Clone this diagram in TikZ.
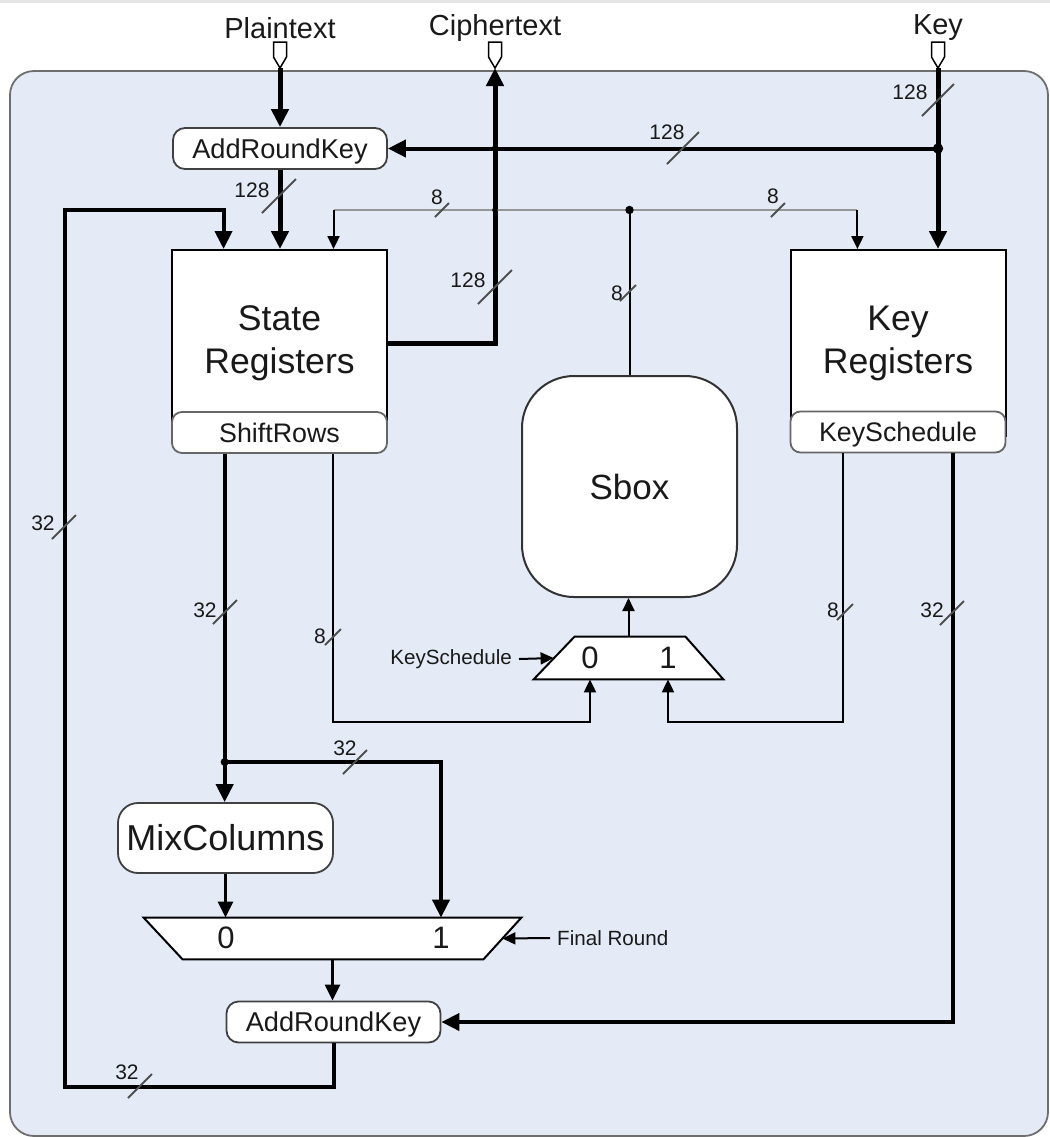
\documentclass[tikz,border=0pt]{standalone}
\usepackage{fontspec}
\setmainfont{Liberation Sans}
\usetikzlibrary{arrows.meta,calc}

\definecolor{panelfill}{RGB}{228,235,246}
\definecolor{panelrim}{RGB}{110,110,110}
\definecolor{greybus}{RGB}{150,150,150}
\definecolor{tickgrey}{RGB}{80,80,80}
\definecolor{ink}{RGB}{25,25,25}

\newcommand\fsz[2]{\fontsize{#1}{#2}\selectfont}
% bus-width tick: centre, half length
\newcommand\wmark[2]{\draw[slashmark] ($(#1)+(-#2,#2)$) -- ($(#1)+(#2,-#2)$);}

\tikzset{
  lbl/.style={font=\fsz{10.5pt}{12pt}, text=ink, inner sep=0pt},
  pinlbl/.style={font=\fsz{14.5pt}{17pt}, text=ink, inner sep=0pt},
  ctl/.style={font=\fsz{10.3pt}{12pt}, text=ink, inner sep=3.4pt},
  regbox/.style={draw=black, line width=1pt, fill=white, minimum width=107.5pt,
    minimum height=93pt, align=center, font=\fsz{17.8pt}{21.5pt}, text=ink, inner sep=0pt},
  subbox/.style={draw=black!60, line width=0.9pt, fill=white, rounded corners=5pt,
    minimum width=107.5pt, minimum height=20.5pt, font=\fsz{13.4pt}{15pt}, text=ink,
    inner sep=0pt, text height=9.6pt, text depth=0pt},
  opbox/.style={draw=black!75, line width=0.9pt, fill=white, rounded corners=6pt,
    minimum width=107pt, minimum height=20.5pt, font=\fsz{13.6pt}{16pt}, text=ink,
    inner sep=0pt, text height=9.8pt, text depth=0pt},
  muxarea/.style={inner sep=0pt},
  muxline/.style={draw=black, line width=1pt, fill=white, line join=miter},
  digit/.style={font=\fsz{15.5pt}{18pt}, text=ink, inner sep=0pt},
  heavy/.style={line width=2.5pt},
  wide/.style={line width=2pt},
  mid/.style={line width=1.5pt},
  fine/.style={line width=1pt},
  graybus/.style={line width=1.4pt, draw=greybus},
  bigtip/.style={-{Triangle[length=9pt,width=8.5pt]}},
  midtip/.style={-{Triangle[length=8pt,width=7.5pt]}},
  smalltip/.style={-{Triangle[length=6.5pt,width=6pt]}},
  slashmark/.style={draw=tickgrey, line width=1pt},
}

\begin{document}
\begin{tikzpicture}[x=0.5pt,y=-0.5pt]
\useasboundingbox (0,0) rectangle (1050,1137);

% page strip and panel
\fill[black!10] (0,0) rectangle (1050,3);
\draw[fill=panelfill, draw=panelrim, line width=0.9pt, rounded corners=12pt]
  (10,71) rectangle (1048,1136);

% external pins
\node[pinlbl] (ptlbl) at (280,28) {Plaintext};
\node[pinlbl] (ctlbl) at (495,28) {Ciphertext};
\node[pinlbl] (keylbl) at (938,28) {Key};
\coordinate (ptpin) at (280,68);
\coordinate (ctpin) at (495,68);
\coordinate (kpin)  at (938,68);
\foreach \p in {ptpin,ctpin,kpin}{
  \draw[fill=white, line width=0.75pt]
    ($(\p)+(-6.5,-26)$) -- ($(\p)+(6.5,-26)$) -- ($(\p)+(6.5,-11)$)
    -- (\p) -- ($(\p)+(-6.5,-11)$) -- cycle;
}

% blocks
\node[opbox] (ark1) at (280,148.5) {AddRoundKey};
\node[regbox] (state) at (279.5,343) {State\\Registers};
\node[subbox] (sr) at (279.5,432.5) {ShiftRows};
\node[regbox] (kr) at (898,343) {Key\\Registers};
\node[subbox] (ks) at (898,432) {KeySchedule};
\node[draw=black!80, line width=1pt, fill=white, rounded corners=26pt,
      minimum width=107.5pt, minimum height=110.5pt,
      font=\fsz{17.5pt}{21pt}, text=ink] (sbox) at (629.5,486.5) {Sbox};

% S-box input multiplexer (wide side down)
\node[muxarea, minimum width=94.5pt, minimum height=21pt] (mux1) at (628.5,658) {};
\draw[muxline] (mux1.south west) -- ($(mux1.north west)+(41,0)$)
  -- ($(mux1.north east)+(-38,0)$) -- (mux1.south east) -- cycle;
\node[digit] (m1zero) at (590,658) {0};
\node[digit] (m1one) at (668,658) {1};
\coordinate (m1sel) at ($(mux1.west)+(20,0)$);
\node[ctl, anchor=east] (ksl) at (519,659) {KeySchedule};

\node[draw=black!75, line width=0.9pt, fill=white, rounded corners=10pt,
      minimum width=107.5pt, minimum height=35pt,
      font=\fsz{18pt}{21pt}, text=ink] (mc) at (225.5,838) {MixColumns};

% final-round multiplexer (wide side up)
\node[muxarea, minimum width=188.5pt, minimum height=20.5pt] (mux2) at (332.5,938.5) {};
\draw[muxline] (mux2.north west) -- (mux2.north east)
  -- ($(mux2.south east)+(-38,0)$) -- ($(mux2.south west)+(39,0)$) -- cycle;
\node[digit] (m2zero) at (226,938) {0};
\node[digit] (m2one) at (441,938) {1};
\coordinate (m2sel) at ($(mux2.east)+(-19,0)$);
\node[ctl, anchor=west] (frl) at (550,938) {Final Round};

\node[opbox] (ark2) at (333.5,1022) {AddRoundKey};

% helper points
\coordinate (ybus) at (0,210);
\coordinate (ylow) at (0,722);
\coordinate (ybranch) at (0,762);
\coordinate (stin1) at ($(state.north west)!0.242!(state.north east)$);
\coordinate (stin3) at ($(state.north west)!0.749!(state.north east)$);
\coordinate (krin1) at ($(kr.north west)!0.313!(kr.north east)$);
\coordinate (srA) at ($(sr.south west)!0.247!(sr.south east)$);
\coordinate (srB) at ($(sr.south west)!0.749!(sr.south east)$);
\coordinate (ksA) at ($(ks.south west)!0.248!(ks.south east)$);
\coordinate (ksB) at ($(ks.south west)!0.752!(ks.south east)$);
\coordinate (kj) at (kpin |- ark1.east);
\coordinate (gb) at (sbox.north |- ybus);
\coordinate (gbL) at (stin3 |- ybus);
\coordinate (gbR) at (krin1 |- ybus);
\coordinate (mj) at (srA |- ybranch);
\coordinate (loopBL) at (65,1087);
\coordinate (loopTL) at (65,210);

% 128-bit paths
\draw[heavy, bigtip] (ptpin) -- (ark1.north);
\draw[heavy, bigtip] (kpin) -- (kpin |- kr.north);
\draw[wide, bigtip] (kj) -- (ark1.east);
\draw[heavy, bigtip] (ark1.south) -- (ark1.south |- state.north);
\draw[heavy, bigtip] (state.east) -| (ctpin);

% 8-bit S-box bus
\draw[graybus] (gbL) -- (gbR);
\draw[fine, smalltip] (gbL) -- (stin3);
\draw[fine, smalltip] (gbR) -- (krin1);
\draw[fine] (gb) -- (sbox.north);
\draw[fine, smalltip] (mux1.north) -- (mux1.north |- sbox.south);
\draw[fine, smalltip] (srB) |- (ylow -| m1zero) -- (m1zero |- mux1.south);
\draw[fine, smalltip] (ksA) |- (ylow -| m1one) -- (m1one |- mux1.south);
\draw[fine, smalltip] (ksl.east) -- (m1sel);

% 32-bit datapath
\draw[wide, bigtip] (srA) -- (srA |- mc.north);
\draw[wide, bigtip] (mj) -| (m2one |- mux2.north);
\draw[mid, midtip] (mc.south) -- (mc.south |- mux2.north);
\draw[mid, midtip] (mux2.south) -- (mux2.south |- ark2.north);
\draw[fine, smalltip] (frl.west) -- (m2sel);
\draw[wide, bigtip] (ksB) |- (ark2.east);
\draw[wide, bigtip] (ark2.south) |- (loopBL) -- (loopTL) -| (stin1);

% junctions
\fill (kj) circle (2.6pt);
\fill (gb) circle (2.1pt);
\fill (mj) circle (2pt);
\fill (ctpin |- ark1.east) circle (1.6pt);
\fill (ctpin |- ybus) circle (1.4pt);

% bus widths
\wmark{938,100}{16} \node[lbl] (w1) at (910,92) {128};
\wmark{683,148}{16} \node[lbl] (w2) at (667,132) {128};
\wmark{279,196}{17} \node[lbl] (w3) at (252,190) {128};
\wmark{442,210}{7}  \node[lbl] (w4) at (437,197) {8};
\wmark{778,210}{7}  \node[lbl] (w5) at (773,196) {8};
\wmark{495,287}{17} \node[lbl] (w6) at (468,280) {128};
\wmark{628,293}{8}  \node[lbl] (w7) at (617,293) {8};
\wmark{64,527}{12}  \node[lbl] (w8) at (43,523) {32};
\wmark{225,612}{12} \node[lbl] (w9) at (205,610) {32};
\wmark{333,637}{8}  \node[lbl] (w10) at (320,636) {8};
\wmark{845,612}{8}  \node[lbl] (w11) at (833,610) {8};
\wmark{952,613}{12} \node[lbl] (w12) at (932,610) {32};
\wmark{355,762}{12} \node[lbl] (w13) at (345,748) {32};
\wmark{140,1086}{12} \node[lbl] (w14) at (127,1072) {32};
\end{tikzpicture}
\end{document}
